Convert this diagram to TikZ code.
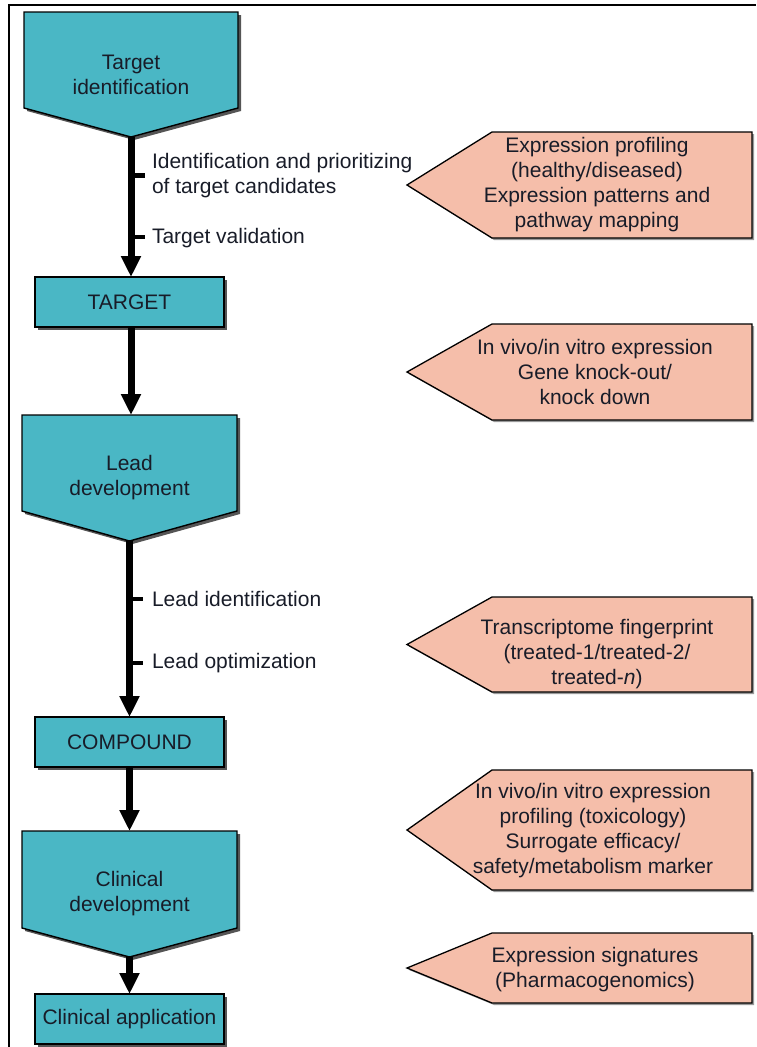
\documentclass[tikz,border=0pt]{standalone}
\usepackage{fontspec}
\setmainfont{Liberation Sans}
\usetikzlibrary{arrows.meta,calc,shadows,backgrounds}

\definecolor{stagefill}{RGB}{74,183,197}
\definecolor{notefill}{RGB}{245,190,170}
\definecolor{inkdark}{RGB}{24,28,40}
\definecolor{shadowgray}{RGB}{85,85,85}

\tikzset{
  txt/.style={font=\fontsize{21}{25}\selectfont, text=inkdark, align=center, inner sep=0pt, outer sep=0pt},
  stagearea/.style={txt, rectangle, draw=none, minimum width=#1},
  stagebox/.style={txt, rectangle, draw=black, line width=1.4pt, fill=stagefill,
    minimum width=189pt, minimum height=50pt,
    drop shadow={shadow xshift=3pt, shadow yshift=-3pt, opacity=1, fill=shadowgray}},
  stageshape/.style={draw=black, line width=1.4pt, fill=stagefill, line join=miter,
    drop shadow={shadow xshift=3pt, shadow yshift=-3pt, opacity=1, fill=shadowgray}},
  notearea/.style={rectangle, draw=none, inner sep=0pt, outer sep=0pt, minimum width=345pt, minimum height=#1},
  noteshape/.style={draw=black, line width=1.3pt, fill=notefill, line join=miter,
    drop shadow={shadow xshift=2pt, shadow yshift=-2pt, opacity=0.6, fill=shadowgray}},
  flow/.style={line width=7pt, -{Triangle[width=19pt,length=21pt]}},
  tickmark/.style={line width=4.5pt},
  sidelabel/.style={txt, anchor=west, align=left},
  frameline/.style={line width=1.5pt, draw=black},
}

\begin{document}
\begin{tikzpicture}[x=1pt,y=-1pt]
\useasboundingbox (0,0) rectangle (756,1047);

% page frame (top and left edges only)
\draw[frameline] (9,1047) -- (9,5) -- (756,5);

% ---------- main stages ----------
\node[stagearea=214pt, minimum height=125pt] (tid) at (131,74.5) {Target\\identification};
\node[stagebox] (tgt) at (129.5,302) {TARGET};
\node[stagearea=215pt, minimum height=126pt] (lead) at (129.5,478) {Lead\\development};
\node[stagebox] (cmp) at (129.5,742) {COMPOUND};
\node[stagearea=215pt, minimum height=126pt] (clin) at (129.5,894) {Clinical\\development};
\node[stagebox] (app) at (129.5,1019) {Clinical application};

% pentagon outlines behind the stage texts
\begin{scope}[on background layer]
  \foreach \n/\d in {tid/29pt, lead/30pt, clin/29pt}{
    \path[stageshape] (\n.north west) -- (\n.north east)
      -- ([yshift=\d]\n.south east) -- (\n.south)
      -- ([yshift=\d]\n.south west) -- cycle;
  }
\end{scope}

% ---------- flow arrows ----------
\draw[flow] (tid.south) -- (tid.south |- tgt.north);
\draw[flow] (tgt.south -| tid.south) -- (tid.south |- lead.north);
\draw[flow] (lead.south) -- (lead.south |- cmp.north);
\draw[flow] (cmp.south -| lead.south) -- (lead.south |- clin.north);
\draw[flow] (clin.south) -- (clin.south |- app.north);

% ---------- step ticks and labels ----------
\coordinate (tk1) at (132,175.5);
\coordinate (tk2) at (132,237);
\coordinate (tk3) at (130,599);
\coordinate (tk4) at (130,663);
\foreach \k in {tk1,tk2,tk3,tk4}{
  \draw[tickmark] (\k) -- ++(13,0);
}
\node[sidelabel] (l1) at (152,175.5) {Identification and prioritizing\\of target candidates};
\node[sidelabel] (l2) at (152,238) {Target validation};
\node[sidelabel] (l3) at (152,599) {Lead identification};
\node[sidelabel] (l4) at (152,663) {Lead optimization};

% ---------- expression-analysis callouts ----------
\node[notearea=106pt] (n1) at (579.5,185) {};
\node[notearea=96pt]  (n2) at (579.5,372) {};
\node[notearea=95pt]  (n3) at (579.5,644.5) {};
\node[notearea=120pt] (n4) at (579.5,830) {};
\node[notearea=70pt]  (n5) at (579.5,968) {};

\begin{scope}[on background layer]
  \foreach \n in {n1,n2,n3,n4,n5}{
    \path[noteshape] (\n.west) -- ([xshift=85pt]\n.north west) -- (\n.north east)
      -- (\n.south east) -- ([xshift=85pt]\n.south west) -- cycle;
  }
\end{scope}

\node[txt] (n1t) at (597,184.5) {Expression profiling\\(healthy/diseased)\\Expression patterns and\\pathway mapping};
\node[txt] (n2t) at (595,371.5) {In vivo/in vitro expression\\Gene knock-out/\\knock down};
\node[txt] (n3t) at (597,654) {Transcriptome fingerprint\\(treated-1/treated-2/\\treated-\textit{n})};
\node[txt] (n4t) at (593,830.5) {In vivo/in vitro expression\\profiling (toxicology)\\Surrogate efficacy/\\safety/metabolism marker};
\node[txt] (n5t) at (595,969.5) {Expression signatures\\(Pharmacogenomics)};
\end{tikzpicture}
\end{document}
